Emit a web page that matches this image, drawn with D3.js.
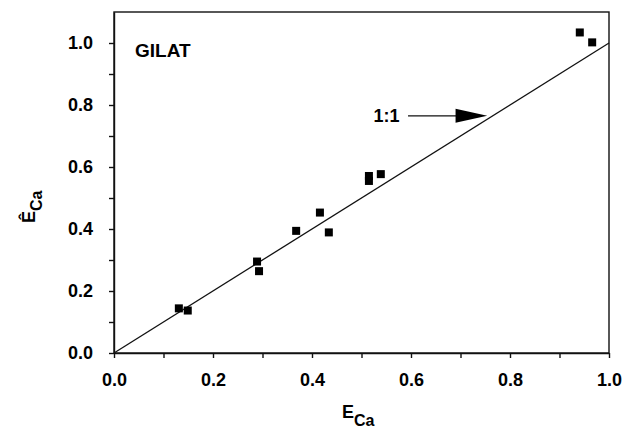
<!DOCTYPE html>
<html>
<head>
<meta charset="utf-8">
<script src="https://cdn.jsdelivr.net/npm/d3@7"></script>
<style>
    body { margin: 0; background: #fff; }
    text { font-family: Arial, "Liberation Sans", Helvetica, sans-serif; font-weight: bold; fill: #000; }
</style>
</head>
<body>
<div id="chart"></div>
<script>
// measured vs predicted Ca equivalent fraction, Gilat soil
const measuredCa = [0.131, 0.149, 0.289, 0.293, 0.368, 0.416, 0.434, 0.515, 0.515, 0.539, 0.941, 0.966];
const predictedCa = [0.144, 0.137, 0.295, 0.264, 0.394, 0.453, 0.389, 0.571, 0.555, 0.577, 1.034, 1.002];
const xTickValues = [0.0, 0.2, 0.4, 0.6, 0.8, 1.0];
const yTickValues = [0.0, 0.2, 0.4, 0.6, 0.8, 1.0];
const minorTicks = d3.range(0, 11).map(i => i / 10);
const identityLine = [0, 1];

const width = 622;
const height = 431;
const margin = { top: 12, right: 13, bottom: 78, left: 114 };
const plotWidth = width - margin.left - margin.right;
const plotHeight = height - margin.top - margin.bottom;

const svg = d3.select('#chart').append('svg')
    .attr('width', width)
    .attr('height', height);

const g = svg.append('g')
    .attr('transform', `translate(${margin.left},${margin.top})`);

const xScale = d3.scaleLinear().domain([0, 1.0]).range([0, plotWidth]);
const yScale = d3.scaleLinear().domain([0, 1.1]).range([plotHeight, 0]);

// frame
g.append('rect')
    .attr('width', plotWidth)
    .attr('height', plotHeight)
    .attr('fill', 'none')
    .attr('stroke', '#111')
    .attr('stroke-width', 1.4);

// x axis: ticks every 0.1, labels every 0.2
const xAxis = g.append('g')
    .attr('transform', `translate(0,${plotHeight})`)
    .call(d3.axisBottom(xScale).tickValues(minorTicks).tickSize(5).tickSizeOuter(0)
        .tickFormat(d => xTickValues.some(v => Math.abs(v - d) < 1e-9) ? d3.format('.1f')(d) : ''));
xAxis.select('.domain').attr('stroke', '#111').attr('stroke-width', 1.4);
xAxis.selectAll('.tick line').attr('stroke', '#111').attr('stroke-width', 1.4);
xAxis.selectAll('.tick text')
    .attr('y', 20)
    .style('font-size', '18px')
    .style('font-family', 'Arial, "Liberation Sans", Helvetica, sans-serif')
    .style('font-weight', 'bold');

// y axis
const yAxis = g.append('g')
    .call(d3.axisLeft(yScale).tickValues(minorTicks).tickSize(5).tickSizeOuter(0)
        .tickFormat(d => yTickValues.some(v => Math.abs(v - d) < 1e-9) ? d3.format('.1f')(d) : ''));
yAxis.select('.domain').attr('stroke', '#111').attr('stroke-width', 1.4);
yAxis.selectAll('.tick line').attr('stroke', '#111').attr('stroke-width', 1.4);
yAxis.selectAll('.tick text')
    .attr('x', -21)
    .style('font-size', '18px')
    .style('font-family', 'Arial, "Liberation Sans", Helvetica, sans-serif')
    .style('font-weight', 'bold');

// 1:1 line
g.append('line')
    .attr('x1', xScale(identityLine[0]))
    .attr('y1', yScale(identityLine[0]))
    .attr('x2', xScale(identityLine[1]))
    .attr('y2', yScale(identityLine[1]))
    .attr('stroke', '#111')
    .attr('stroke-width', 1.3);

// points
const size = 8;
g.append('g')
    .selectAll('rect')
    .data(measuredCa.map((x, i) => ({ x: x, y: predictedCa[i] })))
    .enter()
    .append('rect')
    .attr('x', d => xScale(d.x) - size / 2)
    .attr('y', d => yScale(d.y) - size / 2)
    .attr('width', size)
    .attr('height', size)
    .attr('fill', '#000');

// site label
g.append('text')
    .attr('x', 21)
    .attr('y', 45)
    .style('font-size', '19px')
    .text('GILAT');

// 1:1 annotation with arrow
const arrowY = yScale(0.765);
g.append('text')
    .attr('x', xScale(0.577))
    .attr('y', arrowY + 6)
    .attr('text-anchor', 'end')
    .style('font-size', '18px')
    .text('1:1');
g.append('line')
    .attr('x1', xScale(0.594))
    .attr('y1', arrowY)
    .attr('x2', xScale(0.700))
    .attr('y2', arrowY)
    .attr('stroke', '#111')
    .attr('stroke-width', 1.3);
g.append('path')
    .attr('d', `M${xScale(0.690)},${arrowY - 7} L${xScale(0.754)},${arrowY} L${xScale(0.690)},${arrowY + 7} Z`)
    .attr('fill', '#000');

// x axis title
const xTitle = svg.append('text')
    .attr('x', 342)
    .attr('y', 418)
    .style('font-size', '18px');
xTitle.append('tspan').text('E');
xTitle.append('tspan').attr('dy', 8).style('font-size', '16px').text('Ca');

// y axis title
const yTitle = svg.append('text')
    .attr('transform', 'translate(35,223) rotate(-90)')
    .style('font-size', '18px');
yTitle.append('tspan').text('Ê');
yTitle.append('tspan').attr('dy', 7).style('font-size', '16px').text('Ca');
</script>
</body>
</html>
